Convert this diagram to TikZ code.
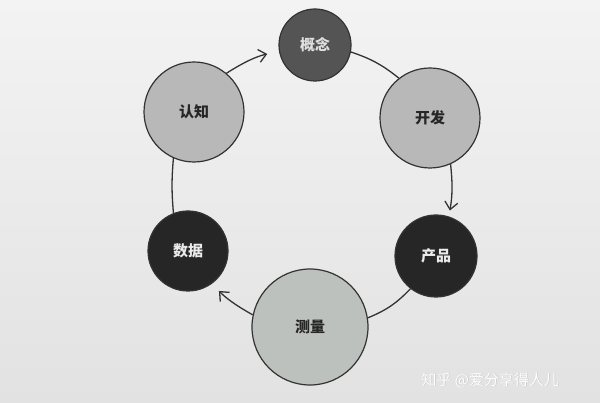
\documentclass[tikz,border=0pt]{standalone}
\usepackage{fontspec}
\newfontfamily\cjk{Noto Sans CJK SC}
\usetikzlibrary{arrows.meta}
\definecolor{bgtop}{HTML}{F3F3F3}
\definecolor{bgbot}{HTML}{E2E2E2}
\definecolor{linec}{HTML}{333333}
\definecolor{midfill}{HTML}{545454}
\definecolor{lightfill}{HTML}{B8B8B8}
\definecolor{paler}{HTML}{BDC1BD}
\definecolor{darkfill}{HTML}{262626}
\tikzset{
  ball/.style={circle, draw=linec, line width=1.2pt, inner sep=0pt, font=\cjk\bfseries\fontsize{15}{15}\selectfont},
  lightball/.style={ball, fill=lightfill, text=black!85},
  paleball/.style={ball, fill=paler, text=black!85},
  darkball/.style={ball, fill=darkfill, text=white!92!black},
  midball/.style={ball, fill=midfill, text=white!88!black},
  link/.style={draw=linec, line width=1.3pt},
  arr/.style={link, -{Straight Barb[length=7.5pt,width=13pt,line width=1.3pt]}},
}
\begin{document}
\begin{tikzpicture}[x=1pt,y=-1pt]
\shade[top color=bgtop, bottom color=bgbot] (0,0) rectangle (600,403);
\useasboundingbox (0,0) rectangle (600,403);
\node[midball, minimum size=72pt] (gn) at (315,45) {概念};
\node[lightball, minimum size=100pt] (kf) at (430,118) {开发};
\node[darkball, minimum size=82pt] (cp) at (436,256) {产品};
\node[paleball, minimum size=116pt] (cl) at (310,327) {测量};
\node[darkball, minimum size=80pt] (sj) at (188,251) {数据};
\node[lightball, minimum size=100pt] (rz) at (194,112) {认知};
\draw[arr, shorten >=12pt] (rz.50) to[bend left=10] (gn.190);
\draw[link] (gn.-11) to[bend left=10] (kf.128);
\draw[arr, shorten >=6pt] (kf.-66) to[bend left=8] (cp.72);
\draw[link] (cp.-128) to[bend left=12] (cl.9);
\draw[arr, shorten >=10pt] (cl.168) to[bend left=8] (sj.-54);
\draw[link] (sj.111) to[bend left=5] (rz.246);
\node[font=\cjk\fontsize{15}{15}\selectfont, text=white, anchor=west] (wms) at (418.6,380.6) {\textcolor{black!25}{知乎 @爱分享得人儿}};
\node[font=\cjk\fontsize{15}{15}\selectfont, text=white, anchor=west] (wm) at (418,380) {知乎 @爱分享得人儿};
\end{tikzpicture}
\end{document}
